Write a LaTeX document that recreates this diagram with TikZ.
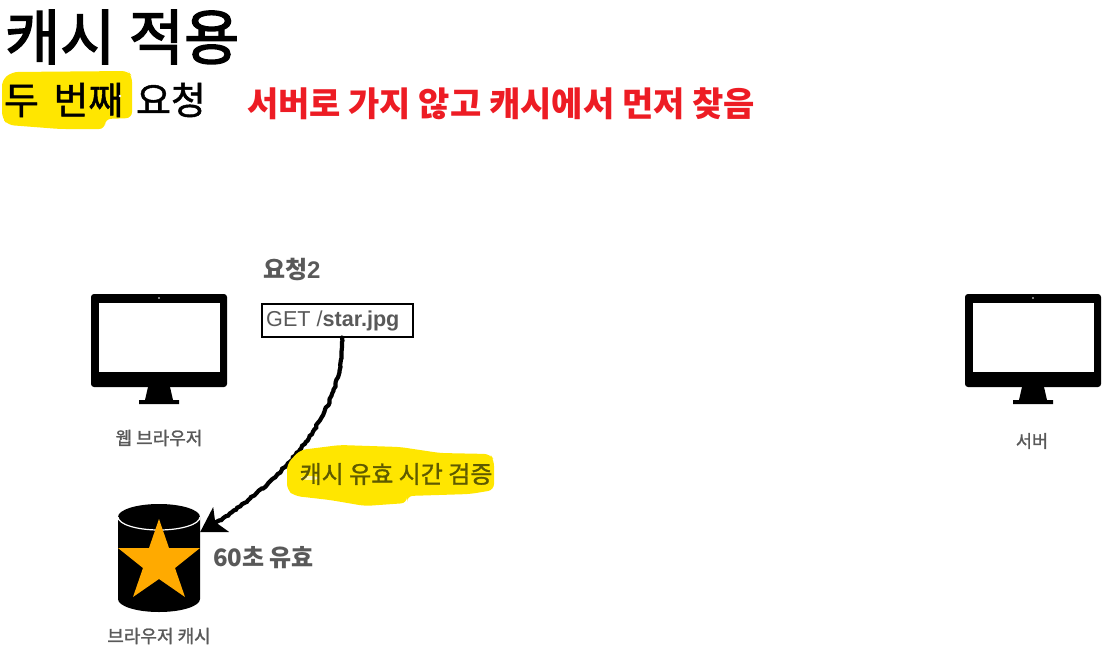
\documentclass[tikz,border=0pt]{standalone}
\usepackage{fontspec}
\newfontfamily\kr{Noto Sans CJK KR}
\newfontfamily\krm[FakeBold=1.2]{Noto Sans CJK KR}
\newfontfamily\krt[FakeBold=2.4]{Noto Sans CJK KR}
\newfontfamily\lat{Liberation Sans}
\usetikzlibrary{decorations.pathmorphing}
\definecolor{hl}{HTML}{FFE600}
\definecolor{greytx}{HTML}{595959}
\definecolor{hltx}{HTML}{5E5A00}
\definecolor{redtx}{HTML}{ED1C24}
\definecolor{starc}{HTML}{FFAA00}
\tikzset{
  txt/.style={inner sep=0pt,outer sep=0pt,anchor=west,font=\kr},
  lbl/.style={inner sep=0pt,outer sep=0pt,anchor=center,text=greytx,font=\krm\fontsize{18}{22}\selectfont},
  blob/.style={fill=hl,draw=none},
  brush/.style={draw=black,line width=4.2pt,line cap=round,decorate,decoration={random steps,segment length=2.5pt,amplitude=0.8pt}},
  pics/monitor/.style={code={
    \fill[black,rounded corners=3pt] (0,0) rectangle (136,93);
    \fill[white] (8,9) rectangle (129,78);
    \fill[white] (68,4) circle (0.8);
    \fill[black] (57,93) -- (79,93) -- (82,106) -- (88,106) -- (88,110) -- (48,110) -- (48,106) -- (54,106) -- cycle;
  }}
}
\begin{document}
\begin{tikzpicture}[x=1pt,y=-1pt]
\useasboundingbox (0,0) rectangle (1113,646);
% highlights
\fill[blob,rounded corners=6pt] (2,80) -- (12,72) -- (128,71) -- (132,76) -- (132,118) -- (105,119) -- (105,129) -- (60,129) -- (8,125) -- (2,118) -- cycle;
\node[txt,font=\krt\fontsize{60}{70}\selectfont] (title) at (5,37) {캐시 적용};
\node[txt,font=\krm\fontsize{38}{46}\selectfont] (sub1) at (4,100) {두\hspace{6pt} 번째};
\node[txt,font=\krm\fontsize{38}{46}\selectfont] (sub2) at (136,100) {요청};
\fill[white] (120,96) circle (1.3);
\node[txt,text=redtx,font=\kr\bfseries\fontsize{34}{40}\selectfont] (note) at (247,104) {서버로 가지 않고 캐시에서 먼저 찾음};
% monitors
\pic at (91,294) {monitor};
\pic at (965,294) {monitor};
\node[lbl] (browser) at (159,438) {웹 브라우저};
\node[lbl,font=\krm\fontsize{17.5}{21}\selectfont] (server) at (1032,441) {서버};
\node[lbl,anchor=west,font=\kr\bfseries\fontsize{24}{28}\selectfont] (req) at (263,269) {요청{\lat\bfseries 2}};
\node[draw=black,line width=2pt,minimum width=151pt,minimum height=33pt,inner sep=0pt] (getbox) at (337.5,320) {};
\node[inner sep=0pt,anchor=west,text=greytx,font=\lat\fontsize{21.6}{26}\selectfont] (gettx) at (266,321) {GET /\textbf{star.jpg}};
% cache
\node[minimum width=82pt,minimum height=108pt,inner sep=0pt] (cache) at (159,558) {};
\fill[black] (118,517) arc[x radius=41,y radius=13,start angle=180,end angle=360] -- (200,599) arc[x radius=41,y radius=13,start angle=0,end angle=180] -- cycle;
\draw[white,line width=1.2pt] (118,517) arc[x radius=41,y radius=13,start angle=180,end angle=0];
\fill[starc] (159,519) -- (169,548) -- (200,548) -- (175,568) -- (185,597) -- (159,579) -- (133,597) -- (143,568) -- (118,548) -- (149,548) -- cycle;
\node[lbl] (cachelbl) at (159,636) {브라우저 캐시};
\node[txt,text=greytx,font=\kr\bfseries\fontsize{24}{28}\selectfont] (ttl) at (213,558) {60초 유효};
% connector
\coordinate (tip) at ([yshift=26pt]cache.east);
\draw[brush] ([xshift=4.5pt]getbox.south) .. controls +(3,62) and +(86,-54) .. ([xshift=14pt,yshift=34pt]cache.east);
\fill[black] (tip) -- ++(13,-25) -- ++(2,15) -- ++(14,10) -- cycle;
% highlight 2
\fill[blob,rounded corners=6pt] (287,464) -- (300,450) -- (340,445) -- (400,447) -- (440,453) -- (490,454) -- (494,460) -- (494,490) -- (470,494) -- (407,496) -- (407,503) -- (365,506) -- (330,500) -- (295,496) -- (287,490) -- cycle;
\fill[white!70!hl] (310,478) ellipse (9 and 2);
\node[txt,anchor=center,text=hltx,font=\krm\fontsize{24}{28}\selectfont] (check) at (396,474) {캐시 유효 시간 검증};
\end{tikzpicture}
\end{document}
